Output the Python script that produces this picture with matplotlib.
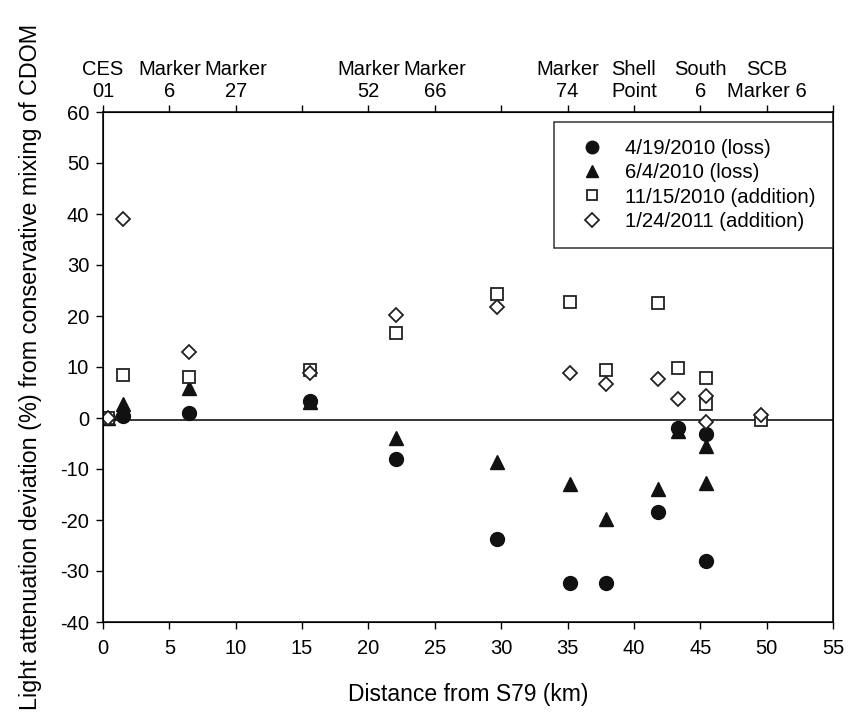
"""Light attenuation deviation from conservative mixing of CDOM along the estuary."""
import matplotlib
matplotlib.use("Agg")
import matplotlib.pyplot as plt

# distances (km from S79) of each sampling station
dist_loss = [0.35, 1.5, 6.5, 15.6, 22.1, 29.7, 35.2, 37.9, 41.8, 43.3, 45.4, 45.4]
dist_add = [0.35, 1.5, 6.5, 15.6, 22.1, 29.7, 35.2, 37.9, 41.8, 43.3, 45.4, 45.4, 49.6]

# deviation (%) per sampling date
dev_0419 = [0.0, 0.4, 0.9, 3.4, -8.1, -23.8, -32.4, -32.3, -18.5, -1.9, -3.1, -28.1]
dev_0604 = [0.0, 2.7, 5.8, 3.1, -4.0, -8.6, -13.0, -19.9, -14.0, -2.6, -5.5, -12.8]
dev_1115 = [0.0, 8.5, 8.1, 9.4, 16.7, 24.3, 22.8, 9.4, 22.5, 9.8, 7.8, 2.8, -0.3]
dev_0124 = [0.0, 39.0, 13.0, 8.9, 20.2, 21.8, 8.8, 6.7, 7.7, 3.8, 4.3, -0.7, 0.6]

legend_labels = ["4/19/2010 (loss)", "6/4/2010 (loss)",
                 "11/15/2010 (addition)", "1/24/2011 (addition)"]

# station names on the top axis (blank = unlabelled tick)
station_labels = ["CES\n01", "Marker\n6", "Marker\n27", "", "Marker\n52", "Marker\n66",
                  "", "Marker\n74", "Shell\nPoint", "South\n6", "SCB\nMarker 6", ""]

x_ticks = list(range(0, 56, 5))
y_ticks = list(range(-40, 61, 10))

plt.rcParams["font.family"] = ["Liberation Sans", "DejaVu Sans"]
plt.rcParams["axes.unicode_minus"] = False

fig = plt.figure(figsize=(8.54, 7.22), dpi=100)
ax = fig.add_axes([103 / 854, 1 - 622 / 722, 730 / 854, 510 / 722])

ax.axhline(-0.4, color="black", lw=1.1, zorder=1)

h_circ, = ax.plot(dist_loss, dev_0419, "o", ms=10, color="#111111", mec="#111111", ls="none",
                  label=legend_labels[0], zorder=3)
h_tri, = ax.plot(dist_loss, dev_0604, "^", ms=10, color="#111111", mec="#111111", ls="none",
                 label=legend_labels[1], zorder=2)
h_sq, = ax.plot(dist_add, dev_1115, "s", ms=8.4, mfc="white", mec="#222222", mew=1.3, ls="none",
                label=legend_labels[2], zorder=4)
h_dia, = ax.plot(dist_add, dev_0124, "D", ms=7.6, mfc="white", mec="#222222", mew=1.3, ls="none",
                 label=legend_labels[3], zorder=5)

ax.set_xlim(0, 55)
ax.set_ylim(-40, 60)
ax.set_xticks(x_ticks)
ax.set_yticks(y_ticks)
ax.tick_params(axis="both", direction="out", length=5, width=1, labelsize=14.5, pad=5)
ax.tick_params(axis="x", pad=7)
for sp in ax.spines.values():
    sp.set_linewidth(1.1)

ax.set_xlabel("Distance from S79 (km)", fontsize=16.5, labelpad=18)
ax.set_ylabel("Light attenuation deviation (%) from conservative mixing of CDOM",
              fontsize=16.8, labelpad=13)

# --- station names along the top ---
top = ax.twiny()
top.set_xlim(0, 11)
top.set_xticks(range(len(station_labels)))
top.set_xticklabels(station_labels, fontsize=14.5, linespacing=1.2)
top.tick_params(axis="x", direction="out", length=5, width=1, pad=3)

leg = top.legend([h_circ, h_tri, h_sq, h_dia], legend_labels,
                 loc="upper right", bbox_to_anchor=(1.0, 1 - 10 / 510), borderaxespad=0,
                 fontsize=14.7, frameon=True, fancybox=False, edgecolor="black",
                 markerscale=0.9, handlelength=2.1, handletextpad=0.55,
                 borderpad=0.85, labelspacing=0.25)
leg.get_frame().set_linewidth(1.1)

fig.savefig("out.png", dpi=100)
